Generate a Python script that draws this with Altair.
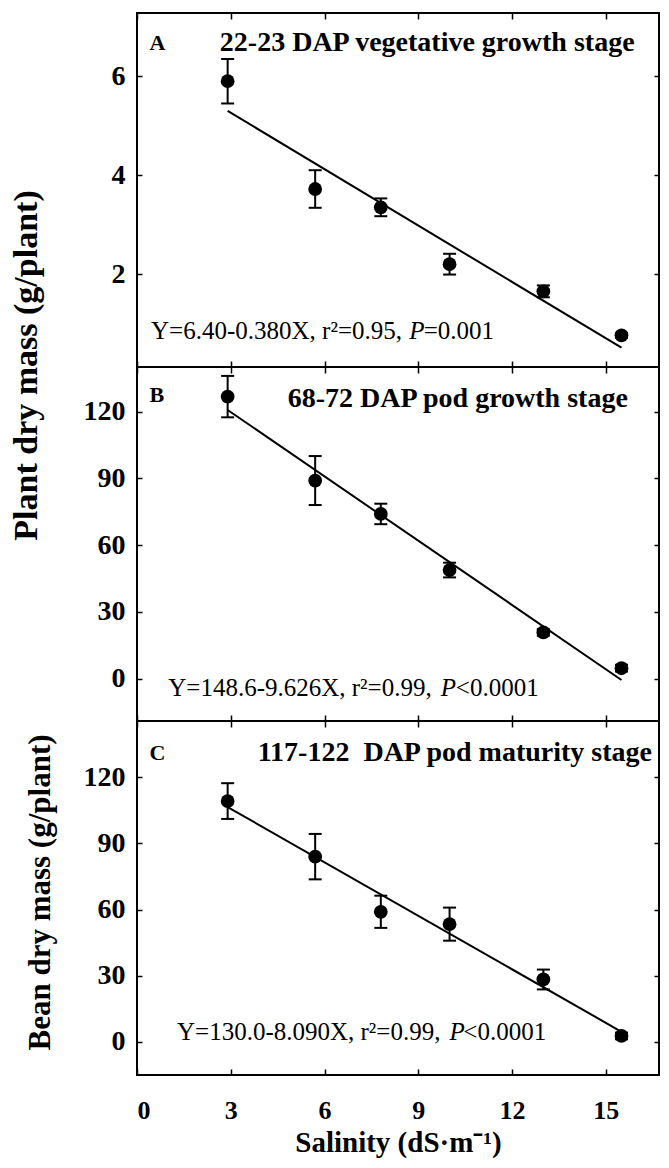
import altair as alt
import pandas as pd

FONT = "Liberation Serif"

# ---- data ----
salinity = [2.9, 5.7, 7.8, 10.0, 13.0, 15.5]

a_mean = [5.90, 3.72, 3.35, 2.20, 1.65, 0.76]
a_se = [0.45, 0.38, 0.18, 0.21, 0.12, 0.05]

b_mean = [126.7, 89.0, 74.0, 48.8, 20.8, 4.7]
b_se = [9.3, 11.0, 4.6, 3.3, 1.5, 1.5]

c_mean = [109.2, 84.0, 59.0, 53.4, 28.3, 2.7]
c_se = [8.1, 10.3, 7.3, 7.5, 4.5, 1.5]

fit_x = [2.9, 15.5]
a_fit = [5.30, 0.51]
b_fit = [120.7, -0.6]
c_fit = [106.5, 4.6]

x_ticks = [0, 3, 6, 9, 12, 15]
a_ticks = [2, 4, 6]
bc_ticks = [0, 30, 60, 90, 120]

panel_labels = ["A", "B", "C"]
panel_titles = ["22-23 DAP vegetative growth stage",
                "68-72 DAP pod growth stage",
                "117-122\u00a0 DAP pod maturity stage"]
eq_first = ["Y=6.40-0.380X, r\u00b2=0.95,",
            "Y=148.6-9.626X, r\u00b2=0.99,",
            "Y=130.0-8.090X, r\u00b2=0.99,"]
eq_p = ["P", "P", "P"]
eq_last = ["=0.001", "<0.0001", "<0.0001"]

x_title = "Salinity (dS\u00b7m\u207b\u00b9)"

W = 522
H = 354
X_MAX = 16.7


def panel(mean, se, fit, ydom, yticks, idx, lab_y, title_x, title_y,
          eq_x, p_x, last_x, eq_y, ytitle=None, ytitle_size=34,
          ytitle_x=-90, ytitle_y=178, bottom=False):
    xs = alt.Scale(domain=[0, X_MAX], nice=False, zero=False)
    ys = alt.Scale(domain=ydom, nice=False, zero=False)

    df = pd.DataFrame({
        "x": salinity,
        "m": mean,
        "lo": [m - s for m, s in zip(mean, se)],
        "hi": [m + s for m, s in zip(mean, se)],
    })
    fdf = pd.DataFrame({"fx": fit_x, "fy": fit})

    xb_kwargs = dict(orient="bottom", values=x_ticks, offset=-6, tickSize=6,
                     domain=False, grid=False, tickColor="black", tickWidth=1.5)
    if bottom:
        xb_kwargs.update(labels=True, labelFontSize=26, labelFont=FONT,
                         labelFontWeight="bold", labelColor="black",
                         labelPadding=22, title=x_title, titleFont=FONT,
                         titleFontSize=29, titleFontWeight="bold",
                         titleColor="black", titlePadding=5)
    else:
        xb_kwargs.update(labels=False, title=None)
    xaxis_bottom = alt.Axis(**xb_kwargs)
    xaxis_top = alt.Axis(orient="top", values=x_ticks, offset=-6, tickSize=6,
                         domain=False, grid=False, labels=False, title=None,
                         tickColor="black", tickWidth=1.5)

    yl_kwargs = dict(orient="left", values=yticks, offset=-5, tickSize=5,
                     domain=False, grid=False, tickColor="black", tickWidth=1.5,
                     labelFontSize=28, labelFont=FONT, labelFontWeight="bold",
                     labelColor="black", labelPadding=12)
    if ytitle:
        yl_kwargs.update(title=ytitle, titleFont=FONT, titleFontSize=ytitle_size,
                         titleFontWeight="bold", titleColor="black",
                         titleX=ytitle_x, titleY=ytitle_y)
    else:
        yl_kwargs.update(title=None)
    yaxis_left = alt.Axis(**yl_kwargs)
    yaxis_right = alt.Axis(orient="right", values=yticks, offset=-5, tickSize=5,
                           domain=False, grid=False, labels=False, title=None,
                           tickColor="black", tickWidth=1.5)

    base = alt.Chart(df)
    pts = base.mark_circle(size=190, color="black", opacity=1).encode(
        x=alt.X("x:Q", scale=xs, axis=xaxis_bottom),
        y=alt.Y("m:Q", scale=ys, axis=yaxis_left),
    )
    line = alt.Chart(fdf).mark_line(color="black", strokeWidth=2).encode(
        x=alt.X("fx:Q", scale=xs, axis=xaxis_top),
        y=alt.Y("fy:Q", scale=ys, axis=yaxis_right),
    )
    rule = base.mark_rule(color="black", strokeWidth=2).encode(
        x=alt.X("x:Q", scale=xs, axis=None),
        y=alt.Y("lo:Q", scale=ys, axis=None),
        y2="hi:Q",
    )
    cap_lo = base.mark_tick(orient="horizontal", size=13, thickness=2,
                            color="black", opacity=1).encode(
        x=alt.X("x:Q", scale=xs, axis=None),
        y=alt.Y("lo:Q", scale=ys, axis=None),
    )
    cap_hi = base.mark_tick(orient="horizontal", size=13, thickness=2,
                            color="black", opacity=1).encode(
        x=alt.X("x:Q", scale=xs, axis=None),
        y=alt.Y("hi:Q", scale=ys, axis=None),
    )

    def text_layer(xv, yv, txt, size, weight="normal", style="normal"):
        tdf = pd.DataFrame({"tx": [xv], "ty": [yv], "t": [txt]})
        return alt.Chart(tdf).mark_text(
            align="left", baseline="middle", font=FONT, fontSize=size,
            fontWeight=weight, fontStyle=style, color="black"
        ).encode(
            x=alt.X("tx:Q", scale=xs, axis=None),
            y=alt.Y("ty:Q", scale=ys, axis=None),
            text="t:N",
        )

    texts = [
        text_layer(0.4, lab_y, panel_labels[idx], 22, "bold"),
        text_layer(title_x, title_y, panel_titles[idx], 28, "bold"),
        text_layer(eq_x, eq_y, eq_first[idx], 25),
        text_layer(p_x, eq_y, eq_p[idx], 25, style="italic"),
        text_layer(last_x, eq_y, eq_last[idx], 25),
    ]

    return alt.layer(pts, line, rule, cap_lo, cap_hi, *texts).resolve_axis(
        x="independent", y="independent"
    ).properties(width=W, height=H)


pA = panel(a_mean, a_se, a_fit, [0.12, 7.28], a_ticks, 0, 6.68, 2.65, 6.68,
           0.45, 8.71, 9.17, 0.853, ytitle="Plant dry mass (g/plant)",
           ytitle_size=34, ytitle_x=-99, ytitle_y=352)
pB = panel(b_mean, b_se, b_fit, [-19, 140], bc_ticks, 1, 127.3, 4.82, 125.6,
           1.0, 9.72, 10.2, -4.1)
pC = panel(c_mean, c_se, c_fit, [-15, 145.5], bc_ticks, 2, 131, 3.86, 131,
           1.28, 10.0, 10.44, 4.5, ytitle="Bean dry mass (g/plant)",
           ytitle_size=31, ytitle_x=-86, ytitle_y=171, bottom=True)

chart = alt.vconcat(pA, pB, pC, spacing=0, bounds="flush").properties(
    padding={"left": 0, "top": 3, "right": 0, "bottom": 0}
).configure(background="white").configure_view(stroke="black", strokeWidth=2)

chart.save("out.html", embed_options={"renderer": "svg", "actions": False})
